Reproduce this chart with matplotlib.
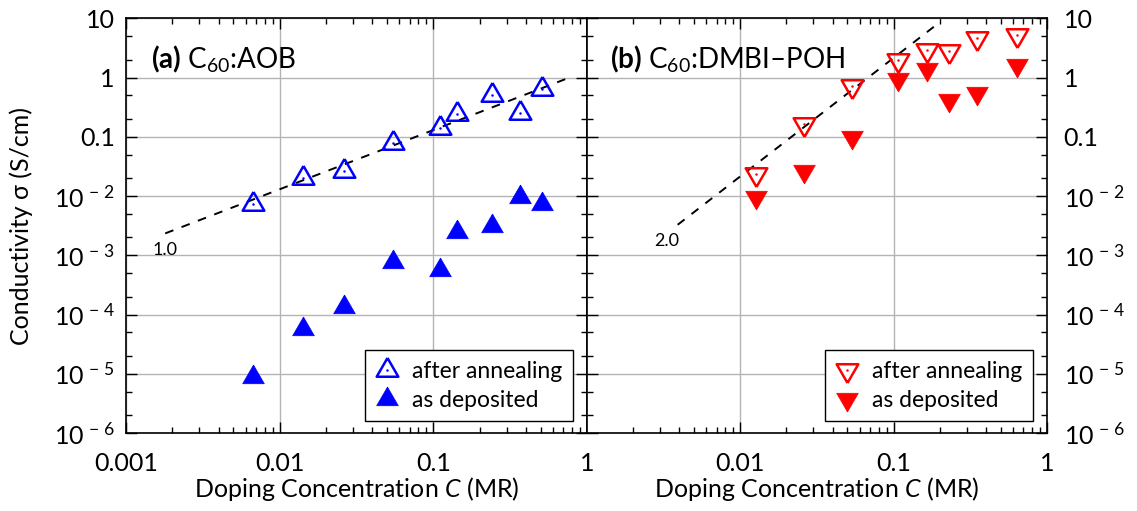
import numpy as np
import matplotlib
matplotlib.use('Agg')
import matplotlib.pyplot as plt
from matplotlib.ticker import LogLocator, NullFormatter

plt.rcParams['font.family'] = ['Lato', 'DejaVu Sans']
plt.rcParams['mathtext.fontset'] = 'custom'
plt.rcParams['mathtext.rm'] = 'Lato'
plt.rcParams['mathtext.it'] = 'Lato:italic'
plt.rcParams['mathtext.bf'] = 'Lato:bold'

# C60:AOB
aob_conc = [0.0067, 0.0141, 0.0263, 0.0548, 0.110, 0.1415, 0.239, 0.366, 0.507]
aob_annealed = [0.0073, 0.0205, 0.0269, 0.080, 0.14, 0.24, 0.51, 0.256, 0.635]
aob_deposited = [8.8e-6, 5.6e-5, 1.35e-4, 7.8e-4, 5.7e-4, 2.5e-3, 3.1e-3, 9.6e-3, 7.3e-3]

# C60:DMBI-POH
dmbi_conc = [0.0127, 0.0262, 0.0536, 0.106, 0.166, 0.230, 0.348, 0.64]
dmbi_annealed = [0.0237, 0.163, 0.73, 1.98, 2.92, 2.84, 4.6, 5.2]
dmbi_deposited = [9.8e-3, 0.026, 0.098, 0.94, 1.41, 0.42, 0.54, 1.65]

# power-law guides sigma = A * C^n
fit_slopes = [1.0, 2.0]
fit_prefactors = [1.3, 215.0]
fit_ranges = [(0.0018, 0.78), (0.0039, 0.195)]

panel_titles = [r'$\mathbf{(a)}$ C$_{60}$:AOB', r'$\mathbf{(b)}$ C$_{60}$:DMBI–POH']

y_ticks = [1e-6, 1e-5, 1e-4, 1e-3, 1e-2, 0.1, 1, 10]
y_labels = ['10$^{\\,\u2212\\,%d}$' % k for k in (6, 5, 4, 3, 2)] + ['0.1', '1', '10']


def tri(up=True):
    # equilateral triangle centred on its centroid
    h = np.sqrt(3) / 2
    s = 1 if up else -1
    return [(0, s * 2 * h / 3), (-0.5, -s * h / 3), (0.5, -s * h / 3), (0, s * 2 * h / 3)]


fig = plt.figure(figsize=(11.37, 5.11), dpi=100)
ax1 = fig.add_axes([0.1108, 0.1526, 0.4055, 0.8116])
ax2 = fig.add_axes([0.5163, 0.1526, 0.4045, 0.8116])

panels = [
    (ax1, aob_conc, aob_annealed, aob_deposited, 'blue', tri(True)),
    (ax2, dmbi_conc, dmbi_annealed, dmbi_deposited, 'red', tri(False)),
]

for i, (ax, conc, ann, dep, col, mk) in enumerate(panels):
    ax.set_xscale('log')
    ax.set_yscale('log')
    ax.set_xlim(0.001, 1)
    ax.set_ylim(1e-6, 10)
    ax.grid(True, which='major', color='#b4b4b4', lw=1.0)
    ax.set_axisbelow(True)

    # guide line
    x0, x1 = fit_ranges[i]
    xs = np.array([x0, x1])
    ys = fit_prefactors[i] * xs ** fit_slopes[i]
    ax.plot(xs, ys, color='black', lw=1.4, ls=(0, (4.5, 4.5)), zorder=2)
    ax.annotate(f'{fit_slopes[i]:.1f}', xy=(xs[0], ys[0]),
                xytext=(0 if i == 0 else -8, -6), textcoords='offset points',
                ha='center', va='top', fontsize=13)

    h_ann, = ax.plot(conc, ann, ls='none', marker=mk, ms=18, mfc='none',
                     mec=col, mew=1.8, zorder=3)
    h_dot, = ax.plot(conc, ann, ls='none', marker='o', ms=1.8, mfc=col,
                     mec=col, mew=0, zorder=3)
    h_dep, = ax.plot(conc, dep, ls='none', marker=mk, ms=18, mfc=col,
                     mec=col, mew=0.5, zorder=3)

    leg = ax.legend([(h_ann, h_dot), h_dep], ['after annealing', 'as deposited'],
                    loc='lower right', bbox_to_anchor=(0.969, 0.029),
                    borderaxespad=0, fontsize=16.5, fancybox=False,
                    edgecolor='black', framealpha=1, handlelength=1.0,
                    handletextpad=0.6, labelspacing=0.35, borderpad=0.45)
    leg.get_frame().set_linewidth(1.0)

    ax.text(0.055 if i == 0 else 0.05, 0.9, panel_titles[i], transform=ax.transAxes,
            fontsize=20, ha='left', va='center')

    ax.xaxis.set_minor_locator(LogLocator(base=10, subs=np.arange(2, 10)))
    ax.xaxis.set_minor_formatter(NullFormatter())
    ax.yaxis.set_minor_locator(LogLocator(base=10, subs=(2, 5)))
    ax.yaxis.set_minor_formatter(NullFormatter())
    ax.set_yticks(y_ticks, y_labels)
    if i == 0:
        ax.set_xticks([0.001, 0.01, 0.1, 1], ['0.001', '0.01', '0.1', '1'])
    else:
        ax.set_xticks([0.01, 0.1, 1], ['0.01', '0.1', '1'])
    ax.tick_params(which='both', direction='in', top=True, right=True,
                   left=True, bottom=True, labelsize=18, width=1.0)
    ax.tick_params(axis='x', pad=14)
    ax.tick_params(axis='y', pad=8)
    ax.tick_params(which='major', length=8)
    ax.tick_params(which='minor', length=4)
    for sp in ax.spines.values():
        sp.set_linewidth(1.2)
    ax.set_xlabel('Doping Concentration $\\mathit{C}$ (MR)', fontsize=18, labelpad=0)

ax2.tick_params(axis='y', labelleft=False, labelright=True, pad=12)
ax1.set_ylabel('Conductivity σ (S/cm)', fontsize=18)
ax1.yaxis.set_label_coords(-0.2017, 0.5)

fig.savefig('out.png', dpi=100)
